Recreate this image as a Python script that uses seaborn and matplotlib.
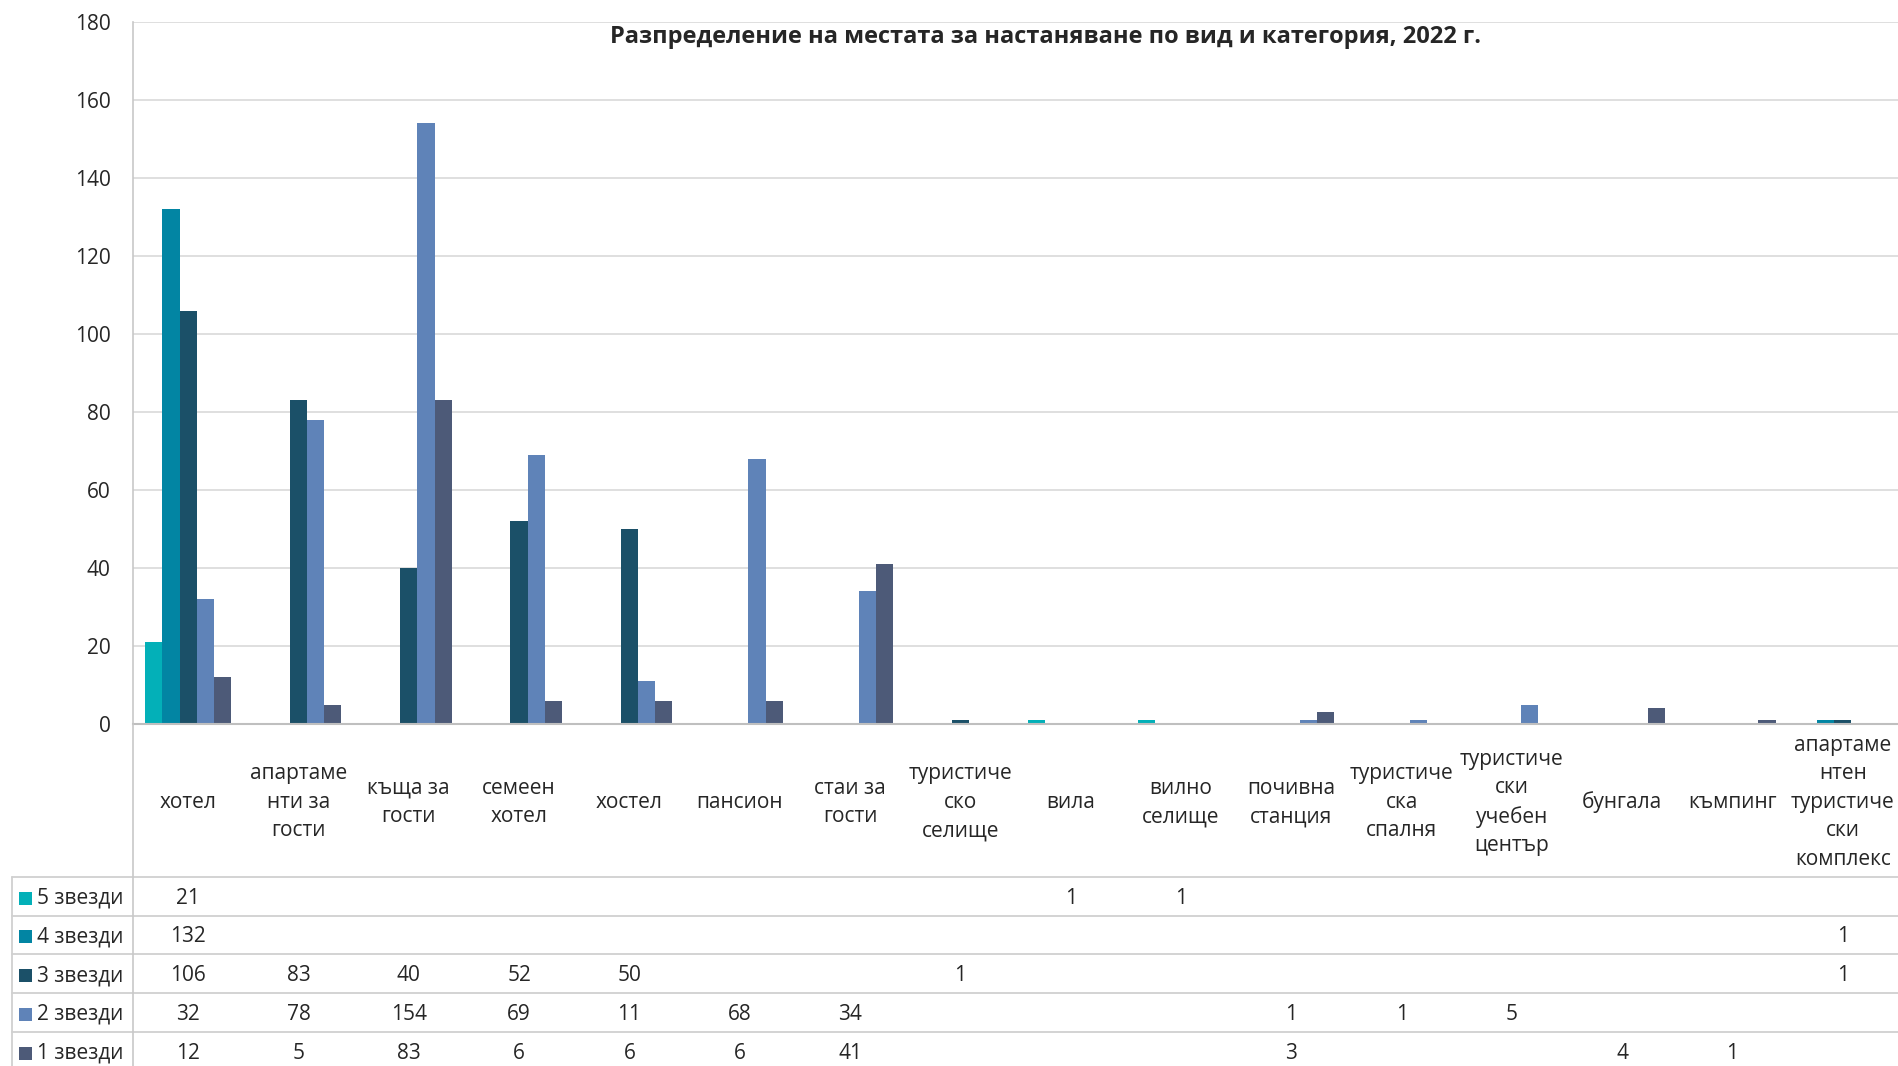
import numpy as np
import pandas as pd
import matplotlib
matplotlib.use("Agg")
import matplotlib.pyplot as plt
import seaborn as sns
from matplotlib.lines import Line2D
from matplotlib.patches import Rectangle
from matplotlib.colors import LinearSegmentedColormap

# Data
categories = ["хотел", "апартаменти за гости", "къща за гости", "семеен хотел", "хостел",
              "пансион", "стаи за гости", "туристическо селище", "вила", "вилно селище",
              "почивна станция", "туристическа спалня", "туристически учебен център",
              "бунгала", "къмпинг", "апартаментен туристически комплекс"]
tick_labels = ["хотел", "апартаме\nнти за\nгости", "къща за\nгости", "семеен\nхотел", "хостел",
               "пансион", "стаи за\nгости", "туристиче\nско\nселище", "вила", "вилно\nселище",
               "почивна\nстанция", "туристиче\nска\nспалня", "туристиче\nски\nучебен\nцентър",
               "бунгала", "къмпинг", "апартаме\nнтен\nтуристиче\nски\nкомплекс"]
series = ["5 звезди", "4 звезди", "3 звезди", "2 звезди", "1 звезди"]
stars5 = [21, None, None, None, None, None, None, None, 1, 1, None, None, None, None, None, None]
stars4 = [132, None, None, None, None, None, None, None, None, None, None, None, None, None, None, 1]
stars3 = [106, 83, 40, 52, 50, None, None, 1, None, None, None, None, None, None, None, 1]
stars2 = [32, 78, 154, 69, 11, 68, 34, None, None, None, 1, 1, 5, None, None, None]
stars1 = [12, 5, 83, 6, 6, 6, 41, None, None, None, 3, None, None, 4, 1, None]
title = "Разпределение на местата за настаняване по вид и категория, 2022 г."

colors = {"5 звезди": "#03b0b8", "4 звезди": "#0285a3", "3 звезди": "#1b5068",
          "2 звезди": "#5f83b8", "1 звезди": "#4d5a78"}
gradients = {"2 звезди": ["#4f77ad", "#7b98c4"], "1 звезди": ["#3d4b6b", "#68738d"]}

rows = []
for name, vals in zip(series, [stars5, stars4, stars3, stars2, stars1]):
    for cat, v in zip(categories, vals):
        if v is not None:
            rows.append({"category": cat, "series": name, "value": v})
df = pd.DataFrame(rows)

sns.set_style("white")
plt.rcParams['font.family'] = ['Open Sans', 'DejaVu Sans']

W, H = 1898, 1066
fig = plt.figure(figsize=(W / 100, H / 100), dpi=100)
ax = fig.add_axes([133 / W, 1 - 724 / H, 1 - 133 / W, (724 - 22) / H])

sns.barplot(data=df, x="category", y="value", hue="series", order=categories,
            hue_order=series, palette=colors, saturation=1, width=0.78,
            linewidth=0, legend=False, ax=ax)

# gradient fill for the lighter blue series
grad = np.linspace(0, 1, 256).reshape(-1, 1)
for cont in ax.containers:
    name = cont.get_label()
    if name in gradients:
        cmap = LinearSegmentedColormap.from_list(name, gradients[name])
        for bar in cont:
            x0, y0 = bar.get_xy()
            w, h = bar.get_width(), bar.get_height()
            ax.imshow(grad, extent=[x0, x0 + w, y0, y0 + h], origin="lower",
                      aspect="auto", cmap=cmap, zorder=2, interpolation="bilinear")
            bar.set_facecolor("none")

ax.set_xlim(-0.5, len(categories) - 0.5)
ax.set_ylim(0, 180)
ax.set_yticks(range(0, 181, 20))
ax.yaxis.grid(True, color="#d9d9d9", linewidth=1.2)
ax.set_axisbelow(True)
ax.set_xlabel("")
ax.set_ylabel("")
ax.set_xticks(range(len(categories)))
ax.set_xticklabels(tick_labels, fontsize=15, linespacing=1.47)
for lbl in ax.get_xticklabels():
    lbl.set_va("center")
ax.tick_params(axis="x", length=0, pad=56.5)
ax.tick_params(axis="y", length=0, pad=16, labelsize=15)
for s in ["top", "right"]:
    ax.spines[s].set_visible(False)
ax.spines["left"].set_color("#c8c8c8")
ax.spines["bottom"].set_color("#bfbfbf")
ax.spines["left"].set_linewidth(1.2)
ax.spines["bottom"].set_linewidth(1.5)

fig.text(1046 / W, 1 - 37 / H, title, ha="center", va="center",
         fontsize=17, fontweight="bold")

# data table
top, row_h = 877, 38.7
ax_tab = fig.add_axes([133 / W, 1 - (top + 5 * row_h) / H, 1 - 133 / W, 5 * row_h / H])
ax_tab.set_xlim(-0.5, len(categories) - 0.5)
ax_tab.set_ylim(5, 0)
ax_tab.axis("off")
for r, (name, vals) in enumerate(zip(series, [stars5, stars4, stars3, stars2, stars1])):
    for i, v in enumerate(vals):
        if v is not None:
            ax_tab.text(i, r + 0.55, str(v), ha="center", va="center", fontsize=15)
    yc = 1 - (top + row_h * (r + 0.55)) / H
    fig.add_artist(Rectangle((19 / W, yc - 6.5 / H), 13 / W, 13 / H,
                             transform=fig.transFigure, color=colors[name], lw=0))
    fig.text(37 / W, yc, name, ha="left", va="center", fontsize=15)

line_col = "#d0d0d0"
for r in range(5):
    y = 1 - (top + row_h * r) / H
    fig.add_artist(Line2D([12 / W, 1], [y, y], transform=fig.transFigure,
                          color=line_col, lw=1.3))
fig.add_artist(Line2D([12 / W, 12 / W], [0, 1 - top / H], transform=fig.transFigure,
                      color=line_col, lw=1.3))
fig.add_artist(Line2D([133 / W, 133 / W], [0, 1 - 724 / H], transform=fig.transFigure,
                      color="#c8c8c8", lw=1.2))

fig.savefig("out.png", dpi=100)
